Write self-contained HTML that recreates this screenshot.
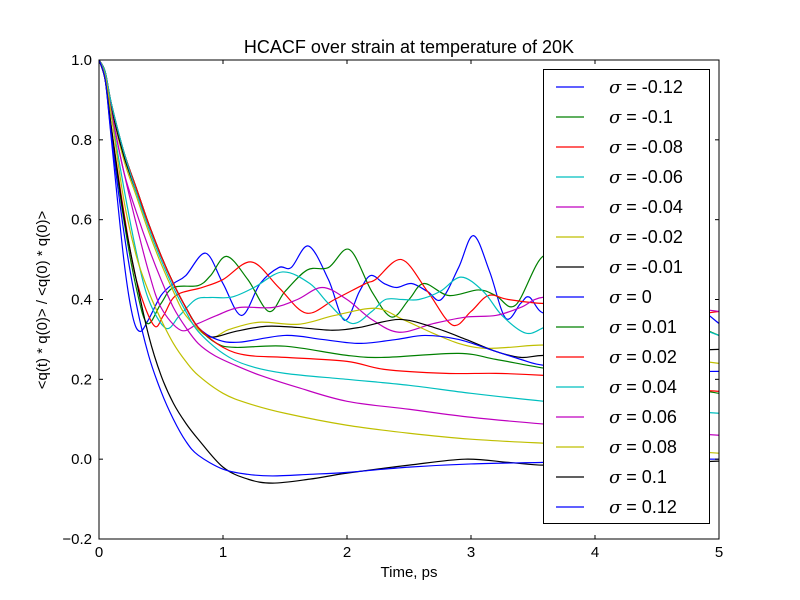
<!DOCTYPE html>
<html><head><meta charset="utf-8"><style>
html,body{margin:0;padding:0;background:#fff;}
svg{display:block;font-family:"Liberation Sans","DejaVu Sans",sans-serif;}
</style></head><body>
<svg id="chart" width="800" height="600" viewBox="0 0 800 600">
<rect width="800" height="600" fill="#fff"/>
<text x="409" y="53" font-size="18" text-anchor="middle">HCACF over strain at temperature of 20K</text>
<text x="409" y="577" font-size="15" text-anchor="middle">Time, ps</text>
<text transform="translate(47,300) rotate(-90)" font-size="15" text-anchor="middle">&lt;q(t) * q(0)&gt; / &lt;q(0) * q(0)&gt;</text>
<defs><clipPath id="pc"><rect x="99" y="60" width="620" height="479"/></clipPath></defs>
<g id="series" clip-path="url(#pc)"></g>
<g id="axes"></g>
<g id="legend"></g>
</svg>
<script>
const xTicks=[0,1,2,3,4,5];
const yTicks=[-0.2,0,0.2,0.4,0.6,0.8,1.0];
const yTickLabels=["\u22120.2","0.0","0.2","0.4","0.6","0.8","1.0"];
const seriesNames=["\u03c3 = -0.12","\u03c3 = -0.1","\u03c3 = -0.08","\u03c3 = -0.06","\u03c3 = -0.04","\u03c3 = -0.02","\u03c3 = -0.01","\u03c3 = 0","\u03c3 = 0.01","\u03c3 = 0.02","\u03c3 = 0.04","\u03c3 = 0.06","\u03c3 = 0.08","\u03c3 = 0.1","\u03c3 = 0.12"];
const t0=[0,0.05,0.1,0.2,0.27,0.33,0.4,0.5,0.6,0.7,0.86,1.0,1.15,1.3,1.45,1.55,1.69,1.85,1.98,2.1,2.19,2.3,2.4,2.52,2.65,2.76,2.9,3.02,3.15,3.28,3.4,3.47,3.59,3.8,4.0,4.2,4.5,4.8,5.0];
const v0=[1,0.95,0.8,0.5,0.36,0.32,0.35,0.41,0.44,0.46,0.516,0.44,0.36,0.44,0.48,0.48,0.534,0.45,0.348,0.42,0.46,0.44,0.43,0.44,0.42,0.40,0.48,0.56,0.47,0.353,0.39,0.406,0.366,0.40,0.36,0.40,0.37,0.38,0.34];
const t1=[0,0.05,0.1,0.2,0.3,0.39,0.5,0.6,0.8,0.9,1.03,1.2,1.37,1.5,1.68,1.85,2.02,2.2,2.36,2.5,2.62,2.82,3.06,3.2,3.36,3.59,3.8,4.0,4.3,4.6,5.0];
const v1=[1,0.95,0.82,0.6,0.43,0.34,0.39,0.43,0.435,0.46,0.508,0.45,0.37,0.42,0.474,0.48,0.525,0.42,0.356,0.40,0.44,0.41,0.424,0.41,0.386,0.51,0.44,0.40,0.38,0.36,0.31];
const t2=[0,0.05,0.1,0.2,0.3,0.44,0.52,0.62,0.83,1.0,1.23,1.45,1.67,1.9,2.15,2.23,2.44,2.65,2.85,3.0,3.14,3.3,3.59,3.8,4.0,4.3,4.6,5.0];
const v2=[1,0.95,0.83,0.62,0.45,0.336,0.36,0.41,0.43,0.45,0.494,0.43,0.366,0.40,0.44,0.45,0.50,0.42,0.336,0.37,0.41,0.40,0.39,0.40,0.38,0.40,0.36,0.37];
const t3=[0,0.05,0.1,0.2,0.3,0.4,0.54,0.65,0.78,0.9,1.07,1.25,1.48,1.7,1.85,2.04,2.2,2.31,2.45,2.58,2.75,2.92,3.1,3.25,3.44,3.59,3.8,4.0,4.3,4.6,5.0];
const v3=[1,0.96,0.86,0.68,0.52,0.40,0.328,0.36,0.40,0.405,0.406,0.43,0.469,0.44,0.39,0.34,0.37,0.40,0.40,0.40,0.42,0.456,0.42,0.36,0.316,0.33,0.36,0.38,0.34,0.35,0.31];
const t4=[0,0.05,0.1,0.2,0.3,0.4,0.5,0.66,0.8,0.95,1.13,1.4,1.6,1.8,2.0,2.2,2.42,2.7,2.96,3.2,3.4,3.59,4.0,4.5,5.0];
const v4=[1,0.96,0.87,0.72,0.59,0.47,0.38,0.323,0.34,0.36,0.38,0.38,0.40,0.43,0.40,0.35,0.318,0.34,0.356,0.36,0.38,0.406,0.40,0.39,0.37];
const t5=[0,0.05,0.1,0.2,0.3,0.4,0.5,0.6,0.7,0.89,1.05,1.29,1.61,1.9,2.23,2.45,2.69,2.9,3.09,3.3,3.59,4.0,4.5,5.0];
const v5=[1,0.97,0.88,0.75,0.66,0.57,0.49,0.42,0.36,0.306,0.325,0.343,0.338,0.36,0.378,0.35,0.316,0.29,0.278,0.28,0.286,0.28,0.26,0.24];
const t6=[0,0.05,0.1,0.2,0.3,0.4,0.5,0.6,0.7,0.8,0.91,1.1,1.35,1.6,1.88,2.1,2.42,2.7,2.96,3.2,3.4,3.59,4.0,4.5,5.0];
const v6=[1,0.97,0.88,0.76,0.67,0.59,0.51,0.44,0.38,0.33,0.306,0.32,0.333,0.33,0.323,0.33,0.35,0.33,0.30,0.27,0.255,0.26,0.26,0.27,0.275];
const t7=[0,0.05,0.1,0.2,0.3,0.4,0.5,0.6,0.7,0.8,0.95,1.13,1.5,1.8,2.1,2.4,2.63,2.9,3.17,3.4,3.59,4.0,4.5,5.0];
const v7=[1,0.97,0.89,0.77,0.68,0.59,0.51,0.44,0.38,0.33,0.30,0.293,0.31,0.30,0.29,0.30,0.31,0.30,0.273,0.25,0.235,0.23,0.22,0.22];
const t8=[0,0.05,0.1,0.2,0.3,0.4,0.5,0.6,0.7,0.8,0.95,1.1,1.5,2.0,2.3,2.9,3.2,3.59,4.0,4.5,5.0];
const v8=[1,0.97,0.89,0.77,0.68,0.59,0.51,0.44,0.38,0.33,0.29,0.28,0.283,0.26,0.255,0.265,0.25,0.228,0.21,0.19,0.165];
const t9=[0,0.05,0.1,0.2,0.3,0.4,0.5,0.6,0.7,0.8,1.0,1.2,1.5,2.0,2.3,2.8,3.2,3.59,4.0,4.5,5.0];
const v9=[1,0.97,0.89,0.77,0.68,0.59,0.51,0.44,0.38,0.33,0.28,0.26,0.255,0.245,0.225,0.215,0.215,0.21,0.2,0.18,0.17];
const t10=[0,0.05,0.1,0.2,0.3,0.4,0.5,0.6,0.7,0.8,1.0,1.2,1.5,2.0,2.5,3.0,3.59,4.0,4.5,5.0];
const v10=[1,0.97,0.89,0.77,0.67,0.58,0.50,0.43,0.37,0.32,0.265,0.235,0.215,0.20,0.185,0.165,0.145,0.135,0.125,0.115];
const t11=[0,0.05,0.1,0.2,0.3,0.4,0.5,0.6,0.7,0.8,0.93,1.1,1.3,1.6,2.0,2.5,3.0,3.59,4.0,4.5,5.0];
const v11=[1,0.96,0.87,0.72,0.62,0.53,0.45,0.38,0.33,0.29,0.26,0.235,0.21,0.18,0.145,0.125,0.105,0.088,0.08,0.07,0.06];
const t12=[0,0.05,0.1,0.2,0.3,0.4,0.5,0.6,0.7,0.8,1.0,1.2,1.5,2.0,2.5,3.0,3.59,4.0,4.5,5.0];
const v12=[1,0.96,0.86,0.65,0.51,0.42,0.35,0.29,0.245,0.21,0.165,0.14,0.115,0.085,0.065,0.05,0.04,0.035,0.025,0.015];
const t13=[0,0.05,0.1,0.2,0.3,0.4,0.5,0.6,0.7,0.8,1.0,1.2,1.4,1.7,2.0,2.5,2.95,3.3,3.59,4.0,4.5,5.0];
const v13=[1,0.95,0.83,0.61,0.45,0.31,0.21,0.14,0.09,0.05,-0.02,-0.05,-0.06,-0.05,-0.035,-0.015,0.0,-0.008,-0.015,-0.01,-0.01,-0.005];
const t14=[0,0.05,0.1,0.2,0.3,0.4,0.5,0.6,0.7,0.8,1.0,1.2,1.4,1.7,2.0,2.5,3.0,3.59,4.0,4.5,5.0];
const v14=[1,0.95,0.81,0.57,0.39,0.26,0.17,0.10,0.045,0.01,-0.025,-0.038,-0.042,-0.038,-0.033,-0.02,-0.012,-0.008,-0.005,0,0];

const NS="http://www.w3.org/2000/svg";
const X0=99,X1=719,Y0=539,Y1=60;
function xS(t){return X0+(t-0)/(5-0)*(X1-X0);}
function yS(v){return Y0-(v-(-0.2))/(1.2)*(Y0-Y1);}
const colors=["#0000ff","#008000","#ff0000","#00bfbf","#bf00bf","#bfbf00","#000000"];
const ts=[t0,t1,t2,t3,t4,t5,t6,t7,t8,t9,t10,t11,t12,t13,t14];
const vs=[v0,v1,v2,v3,v4,v5,v6,v7,v8,v9,v10,v11,v12,v13,v14];
function smoothPath(p){
  let d="M"+p[0][0].toFixed(2)+","+p[0][1].toFixed(2);
  for(let i=0;i<p.length-1;i++){
    const a=p[Math.max(0,i-1)],b=p[i],c=p[i+1],e=p[Math.min(p.length-1,i+2)];
    const c1x=b[0]+(c[0]-a[0])/6,c1y=b[1]+(c[1]-a[1])/6;
    const c2x=c[0]-(e[0]-b[0])/6,c2y=c[1]-(e[1]-b[1])/6;
    d+="C"+c1x.toFixed(2)+","+c1y.toFixed(2)+" "+c2x.toFixed(2)+","+c2y.toFixed(2)+" "+c[0].toFixed(2)+","+c[1].toFixed(2);
  }
  return d;
}
const sg=document.getElementById("series");
for(let s=0;s<ts.length;s++){
  const pts=ts[s].map((t,i)=>[xS(t),yS(vs[s][i])]);
  const p=document.createElementNS(NS,"path");
  p.setAttribute("d",smoothPath(pts));
  p.setAttribute("fill","none");
  p.setAttribute("stroke",colors[s%7]);
  p.setAttribute("stroke-width","1.2");
  
  
  sg.appendChild(p);
}
const ax=document.getElementById("axes");
function mk(tag,attrs,parent){const e=document.createElementNS(NS,tag);for(const k in attrs)e.setAttribute(k,attrs[k]);parent.appendChild(e);return e;}
const frame=mk("rect",{x:X0,y:Y1,width:X1-X0,height:Y0-Y1,fill:"none",stroke:"#000","stroke-width":1},ax);


xTicks.forEach(t=>{
  const x=xS(t);
  const l1=mk("line",{x1:x,x2:x,y1:Y0,y2:Y0-4,stroke:"#000"},ax);
  
  
  const l2=mk("line",{x1:x,x2:x,y1:Y1,y2:Y1+4,stroke:"#000"},ax);
  
  
  const tx=mk("text",{x:x,y:Y0+18,"font-size":15,"text-anchor":"middle"},ax);
  tx.textContent=String(t);
  
  
});
yTicks.forEach((v,i)=>{
  const y=yS(v);
  const l1=mk("line",{x1:X0,x2:X0+4,y1:y,y2:y,stroke:"#000"},ax);
  
  
  const l2=mk("line",{x1:X1,x2:X1-4,y1:y,y2:y,stroke:"#000"},ax);
  
  
  const tx=mk("text",{x:X0-7,y:y+5,"font-size":15,"text-anchor":"end"},ax);
  tx.textContent=yTickLabels[i];
  
  
});
const lg=document.getElementById("legend");
const box=mk("rect",{x:543.5,y:69.5,width:166,height:454,fill:"#fff",stroke:"#000","stroke-width":1},lg);


seriesNames.forEach((n,i)=>{
  const y=87+i*30;
  const g=mk("g",{},lg);
  
  
  const l=mk("line",{x1:556,x2:584,y1:y,y2:y,stroke:colors[i%7],"stroke-width":1.2},g);
  
  
  const tx=mk("text",{x:609,y:y+6,"font-size":18},g);
  
  
  const sig=mk("tspan",{"font-style":"italic","font-family":"DejaVu Serif, Liberation Serif, serif"},tx);
  sig.textContent=n.charAt(0);
  const rest=mk("tspan",{},tx);
  rest.textContent=n.slice(1);
});
</script>
</body></html>
